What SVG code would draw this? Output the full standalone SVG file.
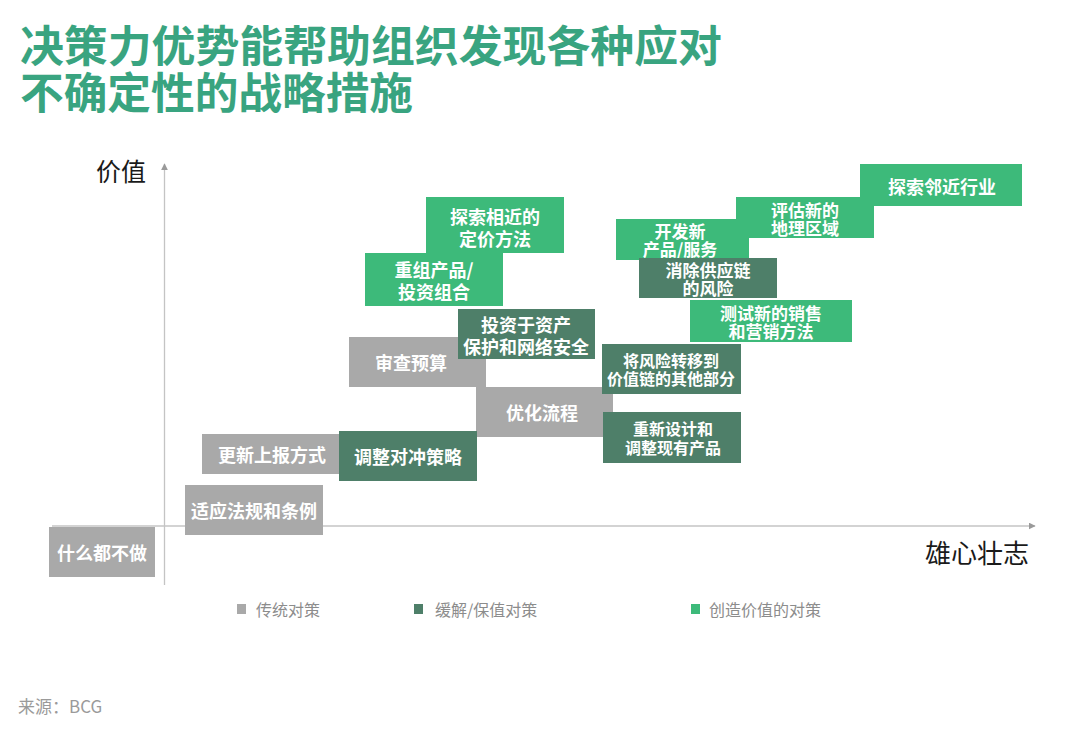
<svg xmlns="http://www.w3.org/2000/svg" width="1080" height="733" viewBox="0 0 1080 733">
<defs>
<style>
text{font-family:"Noto Sans CJK SC","Noto Sans",sans-serif}
.title{font-size:43px;font-weight:700;fill:#39a480}
.ax{font-size:25px;fill:#1a1a1a}
.bt{font-size:18px;font-weight:700;fill:#ffffff;text-anchor:middle;dominant-baseline:central}
.bc{font-size:17px;font-weight:700;fill:#ffffff;text-anchor:middle;dominant-baseline:central}
.bs{font-size:16px;font-weight:700;fill:#ffffff;text-anchor:middle;dominant-baseline:central}
.g{fill:#a9a9a9}
.d{fill:#4e7f69}
.l{fill:#3dba7a}
.lg{font-size:16px;fill:#8c8c8c;dominant-baseline:central}
.axis{stroke:#c4c4c4;stroke-width:1.3;fill:none}
</style>
<marker id="arr" viewBox="0 0 10 10" refX="9" refY="5" markerWidth="7" markerHeight="7" markerUnits="userSpaceOnUse" orient="auto">
<path d="M0,0 L10,5 L0,10 z" fill="#9a9a9a"/>
</marker>
</defs>
<rect width="1080" height="733" fill="#ffffff"/>
<g id="title">
<text class="title" x="20" y="62" textLength="702" lengthAdjust="spacingAndGlyphs">决策力优势能帮助组织发现各种应对</text>
<text class="title" x="20" y="109" textLength="393" lengthAdjust="spacingAndGlyphs">不确定性的战略措施</text>
</g>
<g id="axes">
<line class="axis" x1="164.5" y1="585" x2="164.5" y2="164" marker-end="url(#arr)"/>
<line class="axis" x1="52" y1="526" x2="1035" y2="526" marker-end="url(#arr)"/>
<text class="ax" x="96" y="181">价值</text>
<text class="ax" x="925" y="563" style="font-size:26px">雄心壮志</text>
</g>
<g id="n-nothing"><rect class="g" x="49" y="527" width="106" height="50"/><text class="bt" x="102" y="552">什么都不做</text></g>
<g id="n-regulation"><rect class="g" x="185" y="485" width="138" height="50"/><text class="bt" x="254" y="510">适应法规和条例</text></g>
<g id="n-reporting"><rect class="g" x="202" y="434" width="142" height="40"/><text class="bt" x="272" y="454">更新上报方式</text></g>
<g id="n-budget"><rect class="g" x="349" y="337" width="137" height="50"/><text class="bt" x="411" y="362">审查预算</text></g>
<g id="n-process"><rect class="g" x="476" y="387" width="137" height="50"/><text class="bt" x="542" y="412">优化流程</text></g>
<g id="n-pricing"><rect class="l" x="426" y="197" width="138" height="56"/><text class="bt"><tspan x="495" y="216">探索相近的</tspan><tspan x="495" y="238">定价方法</tspan></text></g>
<g id="n-portfolio"><rect class="l" x="365" y="253" width="138" height="53"/><text class="bt"><tspan x="434" y="269">重组产品/</tspan><tspan x="434" y="291">投资组合</tspan></text></g>
<g id="n-newproducts"><rect class="l" x="616" y="219" width="133" height="41"/><text class="bc"><tspan x="680" y="230">开发新</tspan><tspan x="680" y="248">产品/服务</tspan></text></g>
<g id="n-geography"><rect class="l" x="736" y="197" width="138" height="41"/><text class="bc"><tspan x="805" y="208.5">评估新的</tspan><tspan x="805" y="226.5">地理区域</tspan></text></g>
<g id="n-adjacent"><rect class="l" x="860" y="164" width="162" height="42"/><text class="bt" x="942" y="186">探索邻近行业</text></g>
<g id="n-sales"><rect class="l" x="690" y="300" width="162" height="42"/><text class="bc"><tspan x="771" y="312">测试新的销售</tspan><tspan x="771" y="330">和营销方法</tspan></text></g>
<g id="n-hedging"><rect class="d" x="339" y="431" width="138" height="50"/><text class="bt" x="408" y="456">调整对冲策略</text></g>
<g id="n-security"><rect class="d" x="458" y="309" width="137" height="50"/><text class="bt"><tspan x="526" y="324">投资于资产</tspan><tspan x="526" y="346">保护和网络安全</tspan></text></g>
<g id="n-transfer"><rect class="d" x="602" y="344" width="139" height="50"/><text class="bs"><tspan x="671" y="360">将风险转移到</tspan><tspan x="671" y="378">价值链的其他部分</tspan></text></g>
<g id="n-redesign"><rect class="d" x="603" y="412" width="138" height="51"/><text class="bs"><tspan x="673" y="428">重新设计和</tspan><tspan x="673" y="447">调整现有产品</tspan></text></g>
<g id="n-supply"><rect class="d" x="639" y="258" width="138" height="40"/><text class="bc"><tspan x="708" y="269">消除供应链</tspan><tspan x="708" y="287">的风险</tspan></text></g>
<g id="legend">
<rect class="g" x="237" y="604" width="9" height="10"/><text class="lg" x="256" y="609">传统对策</text>
<rect class="d" x="414" y="604" width="9" height="10"/><text class="lg" x="435" y="609">缓解/保值对策</text>
<rect class="l" x="691" y="604" width="9" height="10"/><text class="lg" x="709" y="609">创造价值的对策</text>
</g>
<g id="source"><text x="18" y="705" style="font-size:17px;fill:#9a9a9a;dominant-baseline:central">来源：BCG</text></g>
</svg>
